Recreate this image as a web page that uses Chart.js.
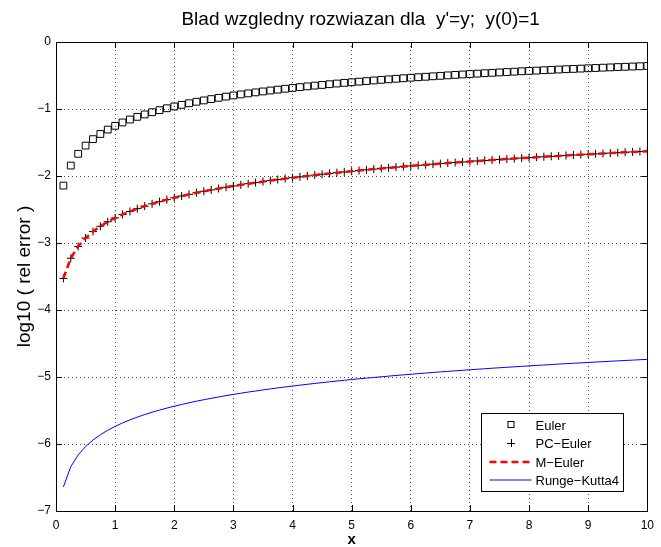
<!DOCTYPE html>
<html>
<head>
<meta charset="utf-8">
<script src="https://cdn.jsdelivr.net/npm/chart.js@4"></script>
<style>
  html, body { margin: 0; padding: 0; background: #fff; }
  #wrap { width: 661px; height: 547px; }
</style>
</head>
<body>
<div id="wrap"><canvas id="chart" width="661" height="547"></canvas></div>
<script>
// step h = 0.125, x = 0.125 .. 10
const xs = [
    0.125, 0.25, 0.375, 0.5, 0.625, 0.75, 0.875, 1,
    1.125, 1.25, 1.375, 1.5, 1.625, 1.75, 1.875, 2,
    2.125, 2.25, 2.375, 2.5, 2.625, 2.75, 2.875, 3,
    3.125, 3.25, 3.375, 3.5, 3.625, 3.75, 3.875, 4,
    4.125, 4.25, 4.375, 4.5, 4.625, 4.75, 4.875, 5,
    5.125, 5.25, 5.375, 5.5, 5.625, 5.75, 5.875, 6,
    6.125, 6.25, 6.375, 6.5, 6.625, 6.75, 6.875, 7,
    7.125, 7.25, 7.375, 7.5, 7.625, 7.75, 7.875, 8,
    8.125, 8.25, 8.375, 8.5, 8.625, 8.75, 8.875, 9,
    9.125, 9.25, 9.375, 9.5, 9.625, 9.75, 9.875, 10,
]

const euler = [
    -2.143, -1.844, -1.669, -1.546, -1.450, -1.373, -1.307, -1.251,
    -1.201, -1.157, -1.117, -1.081, -1.048, -1.017, -0.989, -0.962,
    -0.938, -0.914, -0.892, -0.872, -0.852, -0.833, -0.815, -0.798,
    -0.782, -0.767, -0.752, -0.738, -0.724, -0.711, -0.698, -0.686,
    -0.674, -0.662, -0.651, -0.641, -0.630, -0.620, -0.610, -0.601,
    -0.592, -0.583, -0.574, -0.565, -0.557, -0.549, -0.541, -0.533,
    -0.526, -0.519, -0.512, -0.505, -0.498, -0.491, -0.485, -0.478,
    -0.472, -0.466, -0.460, -0.454, -0.448, -0.443, -0.437, -0.432,
    -0.427, -0.421, -0.416, -0.411, -0.406, -0.402, -0.397, -0.392,
    -0.388, -0.383, -0.379, -0.374, -0.370, -0.366, -0.362, -0.358,
]

// PC-Euler and M-Euler give the same values here
const pcEuler = [
    -3.528, -3.227, -3.051, -2.926, -2.829, -2.750, -2.683, -2.625,
    -2.574, -2.529, -2.487, -2.450, -2.415, -2.383, -2.353, -2.325,
    -2.299, -2.274, -2.250, -2.228, -2.207, -2.187, -2.168, -2.149,
    -2.132, -2.115, -2.098, -2.083, -2.067, -2.053, -2.039, -2.025,
    -2.012, -1.999, -1.986, -1.974, -1.962, -1.951, -1.939, -1.929,
    -1.918, -1.907, -1.897, -1.887, -1.878, -1.868, -1.859, -1.850,
    -1.841, -1.832, -1.824, -1.815, -1.807, -1.799, -1.791, -1.783,
    -1.776, -1.768, -1.761, -1.754, -1.747, -1.740, -1.733, -1.726,
    -1.719, -1.713, -1.706, -1.700, -1.694, -1.687, -1.681, -1.675,
    -1.669, -1.664, -1.658, -1.652, -1.646, -1.641, -1.635, -1.630,
]
const mEuler = pcEuler

const rk4 = [
    -6.640, -6.339, -6.163, -6.038, -5.941, -5.862, -5.795, -5.737,
    -5.686, -5.640, -5.599, -5.561, -5.526, -5.494, -5.464, -5.436,
    -5.410, -5.385, -5.361, -5.339, -5.318, -5.298, -5.278, -5.260,
    -5.242, -5.225, -5.209, -5.193, -5.178, -5.163, -5.149, -5.135,
    -5.122, -5.109, -5.096, -5.084, -5.072, -5.060, -5.049, -5.038,
    -5.027, -5.017, -5.007, -4.997, -4.987, -4.977, -4.968, -4.959,
    -4.950, -4.941, -4.932, -4.924, -4.916, -4.908, -4.900, -4.892,
    -4.884, -4.877, -4.869, -4.862, -4.855, -4.848, -4.841, -4.834,
    -4.827, -4.821, -4.814, -4.807, -4.801, -4.795, -4.789, -4.783,
    -4.777, -4.771, -4.765, -4.759, -4.754, -4.748, -4.742, -4.737,
]

const seriesNames = ['Euler', 'PC\u2212Euler', 'M\u2212Euler', 'Runge\u2212Kutta4']
const xTicks = [0, 1, 2, 3, 4, 5, 6, 7, 8, 9, 10]
const yTicks = [-7, -6, -5, -4, -3, -2, -1, 0]

const FONT = '"Liberation Sans", Arial, Helvetica, sans-serif'
const toPoints = vals => vals.map((v, i) => ({x: xs[i], y: v}))
const minus = v => String(v).replace('-', '\u2212')

// title sits a bit right of the axes centre in the original
const titleShift = {
    id: 'titleShift',
    afterLayout(chart) {
        if (chart.titleBlock) {
            chart.titleBlock.left += 9
            chart.titleBlock.right += 9
        }
    },
}

// box around the axes + inward tick marks (matlab style)
const boxPlugin = {
    id: 'matlabBox',
    afterDatasetsDraw(chart) {
        const {ctx, chartArea: a, scales: {x, y}} = chart
        ctx.save()
        ctx.strokeStyle = '#000'
        ctx.lineWidth = 1
        ctx.beginPath()
        xTicks.forEach(t => {
            const px = Math.round(x.getPixelForValue(t)) + 0.5
            ctx.moveTo(px, a.bottom); ctx.lineTo(px, a.bottom - 6)
            ctx.moveTo(px, a.top); ctx.lineTo(px, a.top + 6)
        })
        yTicks.forEach(t => {
            const py = Math.round(y.getPixelForValue(t)) + 0.5
            ctx.moveTo(a.left, py); ctx.lineTo(a.left + 6, py)
            ctx.moveTo(a.right, py); ctx.lineTo(a.right - 6, py)
        })
        ctx.stroke()
        ctx.strokeRect(Math.round(a.left) + 0.5, Math.round(a.top) + 0.5,
            Math.round(a.right - a.left), Math.round(a.bottom - a.top))
        ctx.restore()
    },
}

// legend box in the lower right corner
const legendPlugin = {
    id: 'matlabLegend',
    afterDraw(chart) {
        const {ctx, chartArea: a} = chart
        const w = 142, h = 78
        const left = Math.round(a.right - 171) + 5.5
        const top = Math.round(a.bottom - 98) + 0.5
        ctx.save()
        ctx.fillStyle = '#fff'
        ctx.fillRect(left, top, w, h)
        ctx.strokeStyle = '#000'
        ctx.lineWidth = 1
        ctx.strokeRect(left, top, w, h)
        ctx.font = '13px ' + FONT
        ctx.textBaseline = 'middle'
        chart.data.datasets.forEach((ds, i) => {
            const cy = Math.round(top + 11 + i * 18.5)
            const x0 = left + 8, x1 = left + 50, xm = Math.round((x0 + x1) / 2)
            ctx.save()
            ctx.strokeStyle = ds.borderColor
            ctx.lineWidth = ds.showLine ? ds.borderWidth : 1
            if (ds.showLine) {
                ctx.setLineDash(ds.borderDash || [])
                ctx.beginPath()
                ctx.moveTo(x0, cy); ctx.lineTo(x1, cy)
                ctx.stroke()
            } else if (ds.pointStyle === 'rect') {
                ctx.strokeRect(xm - 3, cy - 3.5, 6, 6)
            } else {
                ctx.beginPath()
                ctx.moveTo(xm - 4, cy + 0.5); ctx.lineTo(xm + 4, cy + 0.5)
                ctx.moveTo(xm + 0.5, cy - 4); ctx.lineTo(xm + 0.5, cy + 4)
                ctx.stroke()
            }
            ctx.restore()
            ctx.fillStyle = '#000'
            ctx.fillText(ds.label, left + 54, cy + 1)
        })
        ctx.restore()
    },
}

const ctx = document.getElementById('chart').getContext('2d')
new Chart(ctx, {
    type: 'scatter',
    data: {
        datasets: [
            {
                label: seriesNames[0],
                data: toPoints(euler),
                showLine: false,
                pointStyle: 'rect',
                pointRadius: 4.8,
                pointBorderWidth: 1,
                pointBorderColor: '#000',
                pointBackgroundColor: 'rgba(0,0,0,0)',
                borderColor: '#000',
                order: 4,
            },
            {
                label: seriesNames[1],
                data: toPoints(pcEuler),
                showLine: false,
                pointStyle: 'cross',
                pointRadius: 4,
                pointBorderWidth: 1,
                pointBorderColor: '#000',
                borderColor: '#000',
                order: 3,
            },
            {
                label: seriesNames[2],
                data: toPoints(mEuler),
                showLine: true,
                pointRadius: 0,
                borderColor: '#ff0000',
                borderWidth: 2.5,
                borderDash: [7, 4],
                order: 2,
            },
            {
                label: seriesNames[3],
                data: toPoints(rk4),
                showLine: true,
                pointRadius: 0,
                borderColor: '#0000ff',
                borderWidth: 1,
                order: 1,
            },
        ],
    },
    options: {
        responsive: false,
        animation: false,
        maintainAspectRatio: false,
        layout: {padding: {top: 0, right: 9, bottom: 0, left: 0}},
        plugins: {
            legend: {display: false},
            tooltip: {enabled: false},
            title: {
                display: true,
                fullSize: false,
                text: "Blad wzgledny rozwiazan dla  y'=y;  y(0)=1",
                color: '#000',
                font: {family: FONT, size: 19, weight: 'normal'},
                padding: {top: 8.5, bottom: 10.7},
            },
        },
        scales: {
            x: {
                type: 'linear',
                min: 0,
                max: 10,
                afterFit: s => { s.height = 36 },
                afterBuildTicks: s => { s.ticks = xTicks.map(v => ({value: v})) },
                ticks: {
                    color: '#000',
                    padding: 7,
                    maxRotation: 0,
                    font: {family: FONT, size: 12},
                    callback: v => minus(v),
                },
                grid: {
                    color: 'rgba(0,0,0,0.7)',
                    lineWidth: 1,
                    drawTicks: false,
                },
                border: {display: false, dash: [1, 3]},
                title: {
                    display: true,
                    text: 'x',
                    color: '#000',
                    font: {family: FONT, size: 15, weight: 'bold'},
                    padding: {top: 0, bottom: -2},
                },
            },
            y: {
                type: 'linear',
                min: -7,
                max: 0,
                afterFit: s => { s.width = 56 },
                afterBuildTicks: s => { s.ticks = yTicks.map(v => ({value: v})) },
                ticks: {
                    color: '#000',
                    padding: 5,
                    font: {family: FONT, size: 12},
                    callback: v => minus(v),
                },
                grid: {
                    color: 'rgba(0,0,0,0.7)',
                    lineWidth: 1,
                    drawTicks: false,
                },
                border: {display: false, dash: [1, 3]},
                title: {
                    display: true,
                    text: 'log10 ( rel error )',
                    color: '#000',
                    font: {family: FONT, size: 19, weight: 'normal'},
                    padding: {top: 13, bottom: 0},
                },
            },
        },
    },
    plugins: [titleShift, boxPlugin, legendPlugin],
})
</script>
</body>
</html>
